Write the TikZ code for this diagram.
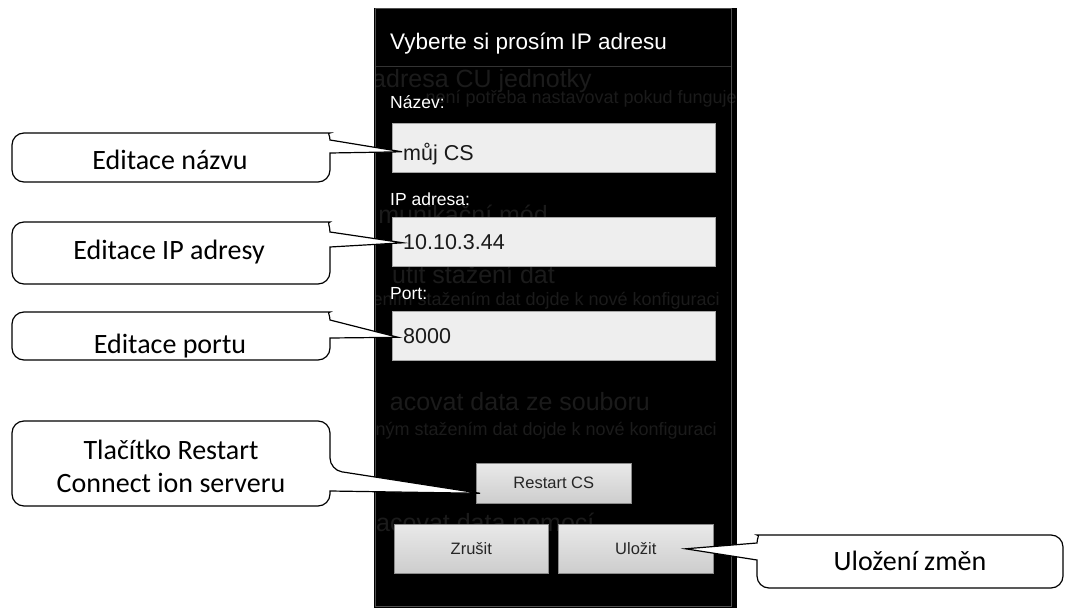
\documentclass[tikz,border=0pt]{standalone}
\usepackage{fontspec}
\setmainfont{Carlito}
\newfontfamily\uifont{Liberation Sans}
\usetikzlibrary{calc}

\definecolor{ghost}{HTML}{1B1B1B}
\definecolor{frameline}{HTML}{505050}
\definecolor{fieldbg}{HTML}{EEEEEE}
\definecolor{btntop}{HTML}{E9E9E9}
\definecolor{btnbot}{HTML}{CDCDCD}

\begin{document}
\begin{tikzpicture}[
  x=1pt, y=-1pt,
  bubble/.style={draw=black, line width=1.2pt, fill=white},
  tag/.style={font=\fontsize{28}{33}\selectfont, anchor=base, align=center, inner sep=0pt},
  ghosttext/.style={font=\uifont\fontsize{25}{30}\selectfont, text=ghost, anchor=base east, inner sep=0pt},
  ghostsmall/.style={ghosttext, font=\uifont\fontsize{18}{22}\selectfont},
  title/.style={font=\uifont\fontsize{22.5}{27}\selectfont, text=white, anchor=base west, inner sep=0pt},
  fieldlabel/.style={font=\uifont\fontsize{17.5}{21}\selectfont, text=white, anchor=base west, inner sep=0pt},
  field/.style={fill=fieldbg, draw=black!35, line width=0.6pt, minimum width=323pt, minimum height=49pt, inner sep=0pt, anchor=north west},
  entry/.style={font=\uifont\fontsize{21.5}{26}\selectfont, text=black!90, anchor=base west, inner sep=0pt},
  button/.style={top color=btntop, bottom color=btnbot, draw=black!45, line width=0.6pt, font=\uifont\fontsize{16.5}{20}\selectfont, text=black!85, minimum width=155pt, minimum height=49pt, inner sep=0pt, anchor=north west}
]
\useasboundingbox (0,0) rectangle (1065,609);
\fill[white] (0,0) rectangle (1065,609);

% phone screen
\fill[black] (374,8) rectangle (737,608);
\begin{scope}
  \clip (376,9) rectangle (737,607);
  \node[ghosttext] (g1) at (592,88) {adresa CU jednotky};
  \node[ghostsmall] (g2) at (737,104) {není potřeba nastavovat pokud funguje};
  \node[ghosttext] (g3) at (548,224) {munikační mód};
  \node[ghosttext] (g4) at (555,284) {utit stažení dat};
  \node[ghostsmall] (g5) at (720,306) {ením stažením dat dojde k nové konfiguraci};
  \node[ghosttext] (g6) at (650,410) {acovat data ze souboru};
  \node[ghostsmall] (g7) at (717,435) {ženým stažením dat dojde k nové konfiguraci};
  \node[ghosttext, anchor=base west] (g8) at (376,531) {acovat data pomocí};
\end{scope}
\draw[frameline, line width=1pt] (375.5,8.5) rectangle (731,606.5);
\draw[black!80] (376,66) -- (731,66);

\node[title] (hdr) at (390,50) {Vyberte si prosím IP adresu};

% dialog fields
\node[fieldlabel] (lname) at (390,109) {Název:};
\node[field] (f1) at (392,123) {};
\node[entry] (v1) at (403,161) {můj CS};
\node[fieldlabel] (lip) at (390,206) {IP adresa:};
\node[field] (f2) at (392,217) {};
\node[entry] (v2) at (403,250) {10.10.3.44};
\node[fieldlabel] (lport) at (390,300) {Port:};
\node[field] (f3) at (392,311) {};
\node[entry] (v3) at (403,344) {8000};

% buttons
\node[button, minimum height=40pt] (rst) at (476,463) {Restart CS};
\node[button, minimum width=154pt] (zru) at (394,524) {Zrušit};
\node[button] (ulo) at (558,524) {Uložit};

% callouts
\coordinate (p1) at ($(f1.west)+(10,4)$);
\coordinate (p2) at ($(f2.west)+(11,1)$);
\coordinate (p3) at ($(f3.west)+(6,1.5)$);
\coordinate (p4) at ($(rst.west)+(4,10)$);
\coordinate (p5) at ($(ulo.east)+(-28,0)$);

\draw[bubble] (330,153) [rounded corners=12pt] -- (330,182) -- (12,182) -- (12,133) -- (318,133)
  [sharp corners] .. controls (327,133) and (330,135) .. (330,140) -- (p1) -- cycle;
\draw[bubble] (330,247) [rounded corners=12pt] -- (330,284) -- (12,284) -- (12,222) -- (318,222)
  [sharp corners] .. controls (327,222) and (330,226) .. (330,232) -- (p2) -- cycle;
\draw[bubble] (330,338) [rounded corners=12pt] -- (330,360) -- (12,360) -- (12,312) -- (318,312)
  [sharp corners] .. controls (327,312) and (330,315) .. (330,320) -- (p3) -- cycle;
\draw[bubble] (330,491) [rounded corners=12pt] -- (330,506) -- (12,506) -- (12,421) -- (330,421) -- (330,470)
  [sharp corners] -- (p4) -- cycle;
\draw[bubble] (757,560) [rounded corners=12pt] -- (757,588) -- (1063,588) -- (1063,535) -- (769,535)
  [sharp corners] .. controls (760,535) and (757,538) .. (757,543) -- (p5) -- cycle;

\node[tag] (t1) at (170,170) {Editace názvu};
\node[tag] (t2) at (169,260) {Editace IP adresy};
\node[tag] (t3) at (170,353) {Editace portu};
\node[tag] (t4) at (171,492) {Tlačítko Restart\\Connect ion serveru};
\node[tag] (t5) at (910,570) {Uložení změn};
\end{tikzpicture}
\end{document}
